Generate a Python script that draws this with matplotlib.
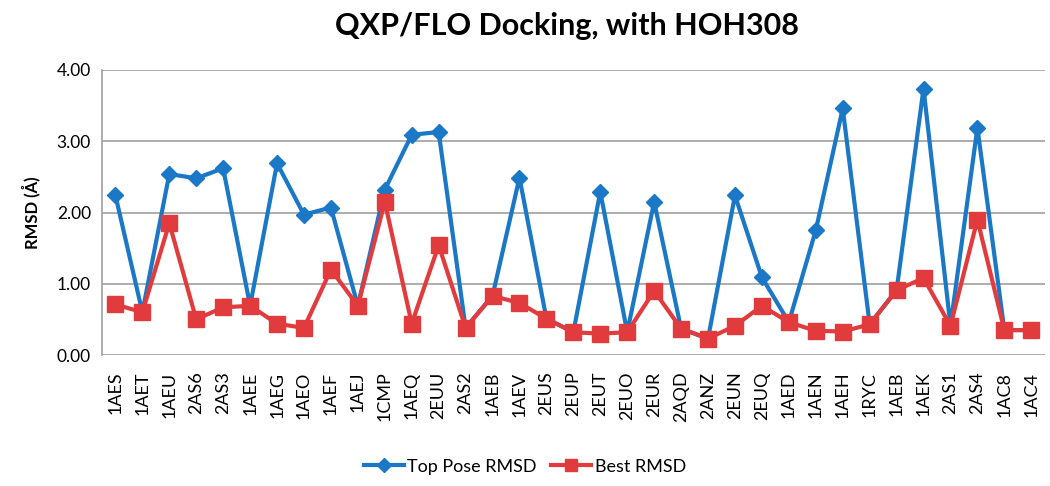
import matplotlib
matplotlib.use("Agg")
import matplotlib.pyplot as plt

categories = ["1AES", "1AET", "1AEU", "2AS6", "2AS3", "1AEE", "1AEG", "1AEO", "1AEF", "1AEJ",
              "1CMP", "1AEQ", "2EUU", "2AS2", "1AEB", "1AEV", "2EUS", "2EUP", "2EUT", "2EUO",
              "2EUR", "2AQD", "2ANZ", "2EUN", "2EUQ", "1AED", "1AEN", "1AEH", "1RYC", "1AEB",
              "1AEK", "2AS1", "2AS4", "1AC8", "1AC4"]
top_pose = [2.24, 0.60, 2.54, 2.48, 2.62, 0.69, 2.69, 1.97, 2.07, 0.69,
            2.32, 3.09, 3.13, 0.38, 0.83, 2.49, 0.51, 0.32, 2.29, 0.32,
            2.15, 0.37, 0.23, 2.24, 1.09, 0.46, 1.75, 3.46, 0.43, 0.91,
            3.74, 0.41, 3.19, 0.35, 0.35]
best = [0.71, 0.60, 1.85, 0.50, 0.67, 0.69, 0.44, 0.38, 1.20, 0.69,
        2.15, 0.44, 1.54, 0.38, 0.83, 0.73, 0.51, 0.32, 0.30, 0.32,
        0.90, 0.37, 0.23, 0.41, 0.69, 0.46, 0.34, 0.33, 0.43, 0.91,
        1.08, 0.41, 1.90, 0.35, 0.35]
yticks = [0.0, 1.0, 2.0, 3.0, 4.0]

plt.rcParams['font.family'] = ['Lato', 'DejaVu Sans']

fig = plt.figure(figsize=(10.5, 4.86), dpi=100)
ax = fig.add_axes([0.0971, 0.2695, 0.8979, 0.5865])

x = list(range(len(categories)))
blue = "#1a78c6"
red = "#e23b3d"
ax.plot(x, top_pose, color=blue, lw=3, marker="D", ms=8.5, mec=blue, mfc=blue,
        label="Top Pose RMSD", zorder=3)
ax.plot(x, best, color=red, lw=3, marker="s", ms=11, mec=red, mfc=red,
        label="Best RMSD", zorder=4)

ax.set_xlim(-0.5, len(categories) - 0.5)
ax.set_ylim(0, 4)
ax.set_yticks(yticks)
ax.set_yticklabels([f"{v:.2f}" for v in yticks], fontsize=12.5)
ax.set_xticks(x)
ax.set_xticklabels(categories, rotation=90, fontsize=13)
ax.tick_params(axis="both", length=0, pad=8)
ax.tick_params(axis="x", pad=12)
ax.yaxis.grid(True, color="#a0a0a0", lw=1.2)
ax.set_axisbelow(True)
for s in ["top", "right", "bottom"]:
    ax.spines[s].set_visible(False)
ax.spines["left"].set_color("#a0a0a0")
ax.spines["left"].set_linewidth(1.2)

ax.set_ylabel("RMSD (Å)", fontsize=12, fontweight="bold", labelpad=12)
fig.suptitle("QXP/FLO Docking, with HOH308", fontsize=22, fontweight="bold",
             x=0.54, y=0.975)

fig.legend(loc="center", bbox_to_anchor=(0.5, 0.04), ncol=2, frameon=False,
           fontsize=13, handlelength=2.2, handletextpad=0.2, columnspacing=0.8,
           markerscale=0.8)

fig.savefig("out.png", dpi=100)
